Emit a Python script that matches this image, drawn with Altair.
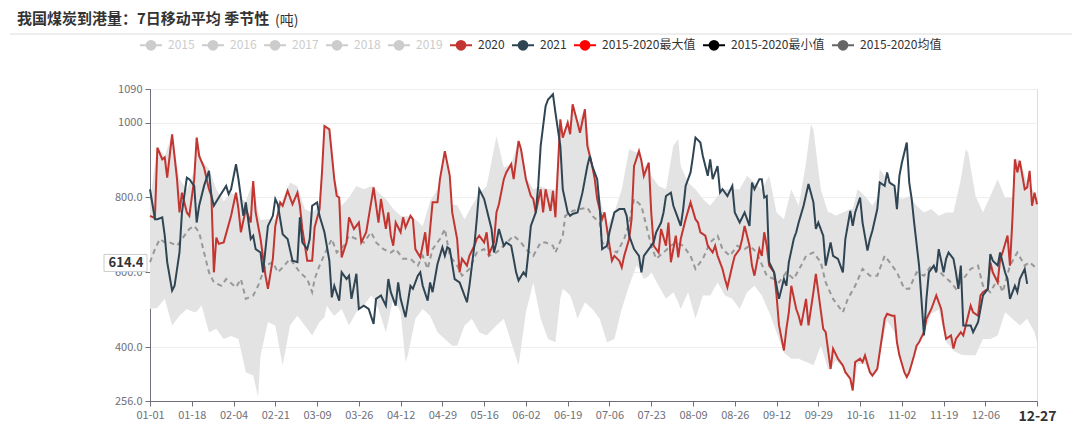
import altair as alt
import pandas as pd

FONT = "Noto Sans CJK SC"
TITLE = "我国煤炭到港量：7日移动平均 季节性"
UNIT = "(吨)"

series_names = ["2015", "2016", "2017", "2018", "2019", "2020", "2021",
                "2015-2020最大值", "2015-2020最小值", "2015-2020均值"]
series_colors = ["#cccccc", "#cccccc", "#cccccc", "#cccccc", "#cccccc",
                 "#c23531", "#2f4554", "#ff0000", "#000000", "#666666"]

x_tick_days = [0, 17, 34, 51, 68, 85, 102, 119, 136, 153, 170, 187, 204, 221,
               238, 255, 272, 289, 306, 323, 340, 361]
y_ticks = [256, 400, 600, 800, 1000, 1090]
pointer_value = [614.4]

# (day of year index from 01-01, value)
s2020 = [(0,751),(2,745),(3,933),(5,902),(6,907),(7,853),(9,969),(11,849),(12,760),(13,813),(15,760),(16,751),
(18,849),(19,960),(20,911),(22,880),(24,822),(25,804),(26,600),(27,693),(28,676),(30,680),(33,751),(35,813),
(36,769),(37,707),(39,769),(41,733),(42,844),(43,760),(45,689),(47,591),(48,556),(50,636),(51,724),(53,787),
(54,778),(56,818),(58,782),(60,813),(61,778),(62,716),(64,631),(66,631),(67,720),(69,769),(70,867),(71,991),
(73,982),(75,849),(76,804),(77,800),(78,640),(80,680),(81,747),(83,716),(85,733),(86,680),(88,707),(91,827),
(93,733),(94,796),(96,716),(97,760),(98,698),(99,671),(100,733),(102,707),(103,747),(104,720),(106,751),(107,742),
(108,662),(110,640),(112,707),(113,644),(115,787),(117,787),(118,849),(120,924),(122,858),(123,760),(125,689),
(126,600),(127,636),(129,618),(130,644),(132,671),(133,689),(134,698),(136,680),(137,707),(138,649),(140,680),
(141,760),(142,782),(144,849),(145,867),(147,889),(148,849),(150,951),(151,929),(153,849),(155,804),(156,796),
(157,760),(159,822),(160,760),(161,822),(163,764),(164,818),(165,747),(167,1009),(168,960),(170,1000),(171,969),
(172,1049),(174,1000),(175,973),(177,1036),(178,938),(180,884),(181,849),(182,796),(184,742),(185,760),(187,671),
(188,631),(189,644),(191,631),(192,613),(193,644),(195,689),(196,742),(197,884),(199,924),(200,898),(201,858),
(203,893),(204,760),(205,671),(207,653),(208,716),(210,671),(211,733),(212,627),(214,698),(215,640),(216,689),
(218,742),(220,787),(222,742),(223,733),(224,707),(226,698),(227,671),(229,653),(230,671),(231,644),(233,609),
(234,582),(235,560),(237,618),(238,644),(240,662),(241,689),(242,724),(244,671),(245,618),(246,591),(248,662),
(249,644),(250,707),(251,671),(252,618),(254,600),(255,538),(256,458),(258,391),(259,449),(260,493),(261,564),
(263,502),(264,484),(265,458),(267,529),(268,458),(270,547),(271,596),(272,547),(274,449),(275,440),(277,342),
(278,396),(280,369),(282,351),(283,333),(285,316),(286,284),(287,360),(289,369),(290,360),(291,378),(293,333),
(294,324),(296,342),(297,387),(299,476),(300,489),(302,484),(303,484),(304,413),(305,378),(307,333),(308,320),
(309,333),(311,378),(312,404),(313,413),(315,440),(316,476),(318,502),(319,520),(320,538),(322,502),(323,458),
(324,422),(326,431),(327,396),(328,422),(330,440),(331,431),(332,458),(334,511),(335,493),(337,484),(338,538),
(339,547),(341,556),(342,627),(343,600),(345,573),(346,636),(347,653),(349,698),(350,618),(351,742),(352,902),
(353,867),(354,898),(356,822),(357,827),(358,871),(359,778),(360,813),(361,782)]

s2021 = [(0,822),(2,742),(3,742),(5,747),(6,698),(7,627),(9,551),(10,564),(12,653),(13,760),(15,853),(16,849),
(18,831),(19,733),(20,778),(22,831),(24,871),(25,804),(26,778),(28,800),(31,831),(32,809),(33,822),(35,889),
(36,849),(38,751),(39,787),(41,689),(42,698),(43,662),(45,653),(46,600),(48,724),(50,751),(51,796),(52,782),
(54,702),(56,689),(58,631),(60,627),(61,747),(62,680),(64,662),(65,689),(66,778),(68,787),(69,751),(71,707),
(73,631),(74,533),(75,564),(77,524),(78,600),(80,582),(81,591),(82,529),(84,596),(85,502),(87,511),(89,502),
(91,462),(92,529),(94,538),(96,511),(97,582),(98,547),(100,511),(101,573),(102,529),(104,480),(106,564),(107,556),
(109,591),(110,600),(111,564),(113,524),(114,573),(115,547),(117,622),(119,667),(120,644),(121,667),(122,662),
(124,582),(126,573),(127,556),(129,520),(130,564),(132,671),(133,742),(134,822),(136,796),(137,769),(139,716),
(140,653),(141,680),(142,716),(144,671),(145,680),(147,671),(148,636),(149,600),(150,578),(152,600),(153,591),
(154,653),(155,724),(157,760),(158,831),(159,938),(161,1044),(162,1062),(164,1076),(165,1027),(167,938),(168,822),
(170,760),(171,751),(172,756),(174,760),(176,813),(178,884),(179,911),(180,884),(182,849),(183,778),(184,662),
(186,671),(187,707),(189,760),(191,769),(193,769),(194,751),(195,698),(197,662),(199,644),(200,600),(201,644),
(203,662),(205,680),(206,707),(208,733),(209,760),(210,804),(212,813),(213,778),(214,760),(216,724),(217,769),
(218,831),(220,867),(221,911),(222,960),(224,947),(225,911),(227,858),(228,902),(229,849),(231,884),(232,813),
(233,822),(235,804),(237,831),(238,760),(240,733),(242,760),(244,724),(245,840),(246,822),(248,849),(249,849),
(250,800),(251,804),(252,627),(254,600),(255,564),(256,529),(258,582),(259,564),(260,627),(262,689),(263,707),
(264,733),(266,778),(268,836),(270,787),(271,716),(272,733),(274,698),(275,618),(277,680),(278,644),(280,636),
(282,600),(283,689),(285,764),(286,724),(287,760),(289,800),(290,733),(292,658),(293,689),(294,711),(296,769),
(297,840),(299,831),(300,867),(301,840),(303,831),(304,769),(305,858),(306,893),(308,947),(309,840),(310,796),
(311,733),(313,618),(315,431),(316,529),(317,600),(319,618),(320,600),(321,662),(323,600),(324,636),(325,653),
(327,636),(328,600),(329,556),(330,618),(331,458),(333,458),(334,458),(335,440),(337,467),(338,502),(339,538),
(341,556),(342,649),(343,631),(345,618),(346,653),(348,600),(349,582),(350,529),(352,564),(353,547),(354,582),
(356,609),(357,569)]

s_mean = [(0,627),(2,662),(4,689),(6,680),(8,680),(11,671),(14,698),(16,716),(18,724),(20,707),(22,653),(24,600),
(26,573),(29,564),(31,582),(35,560),(37,582),(39,529),(42,538),(44,564),(47,618),(50,627),(52,600),(54,613),
(57,636),(61,600),(64,582),(66,547),(67,582),(69,618),(72,662),(74,689),(76,653),(79,671),(81,698),(84,689),
(87,680),(90,707),(92,680),(95,662),(98,653),(100,662),(103,636),(106,636),(109,618),(111,644),(113,609),(115,662),
(118,689),(120,716),(122,644),(125,618),(127,591),(130,609),(133,653),(136,662),(138,644),(141,653),(144,671),
(148,698),(151,680),(153,662),(156,644),(159,680),(161,680),(164,671),(165,653),(168,698),(169,751),(172,764),
(175,769),(178,773),(180,751),(183,733),(184,680),(187,662),(190,653),(193,689),(195,733),(197,796),(200,778),
(202,724),(204,671),(206,636),(209,653),(212,671),(214,680),(217,671),(220,644),(222,609),(225,636),(228,680),
(231,698),(233,662),(236,644),(239,671),(242,662),(244,671),(247,653),(248,636),(251,591),(254,582),(256,573),
(259,600),(262,582),(265,618),(267,644),(270,653),(273,627),(275,573),(278,529),(282,493),(284,529),(287,564),
(290,609),(293,591),(296,591),(299,644),(301,627),(304,600),(307,556),(309,556),(312,600),(315,591),(318,618),
(320,609),(323,591),(326,573),(328,556),(331,582),(334,609),(337,618),(339,564),(342,547),(345,582),(347,547),
(350,618),(353,653),(356,618),(358,627),(361,609)]

# (day, 2015-2020 max, 2015-2020 min)
s_band = [(0,790,502),(3,935,505),(6,910,529),(9,970,458),(12,849,484),(15,822,502),(18,870,493),(19,965,495),
(21,900,511),(24,876,440),(27,822,449),(30,790,422),(33,813,430),(36,800,422),(39,790,333),(42,845,324),
(44,760,267),(45,740,378),(48,742,467),(51,742,458),(54,796,351),(57,840,458),(60,830,484),(63,769,458),
(66,760,431),(69,778,467),(71,995,480),(72,990,511),(73,985,500),(75,860,484),(78,778,502),(81,800,458),
(84,831,493),(87,822,511),(90,830,538),(91,830,530),(93,813,502),(96,796,440),(99,769,529),(102,751,493),
(104,750,360),(105,750,380),(108,742,476),(111,724,502),(114,790,484),(117,822,440),(120,925,422),(122,860,410),
(123,780,404),(125,780,404),(128,742,458),(131,778,476),(134,810,440),(137,830,431),(141,964,458),(144,880,476),
(147,890,413),(150,951,351),(151,930,398),(153,855,493),(156,822,573),(159,830,476),(162,822,422),(165,822,413),
(167,1010,530),(168,965,556),(170,1002,545),(171,975,538),(172,1050,520),(174,1000,476),(177,1036,520),
(180,890,502),(183,800,476),(186,724,413),(189,760,422),(192,822,502),(195,929,564),(198,920,618),(199,925,610),
(201,880,582),(203,895,590),(204,858,600),(207,831,564),(210,822,529),(213,938,547),(215,956,520),(216,884,502),
(219,840,547),(222,822,476),(225,796,538),(228,778,538),(231,804,573),(234,822,538),(237,822,529),(240,822,502),
(243,858,547),(246,840,564),(249,822,538),(252,858,493),(255,760,440),(258,742,385),(261,822,369),(264,778,369),
(267,893,360),(269,996,355),(270,982,351),(273,822,404),(276,760,340),(277,760,338),(279,751,365),(282,760,345),
(285,769,312),(286,769,280),(288,822,355),(291,804,355),(294,778,318),(296,800,338),(297,876,380),(300,849,470),
(303,822,440),(305,800,372),(306,796,355),(308,800,315),(309,804,325),(312,778,400),(315,760,435),(318,769,490),
(321,751,500),(324,760,415),(327,760,390),(330,849,380),(332,929,378),(333,920,378),(336,804,378),(339,760,422),
(342,804,422),(345,849,431),(348,800,493),(351,800,476),(352,905,470),(354,900,458),(357,840,476),(360,815,440),
(361,790,413)]


def frame(pairs, name):
    df = pd.DataFrame(pairs, columns=["day", "value"])
    df["series"] = name
    return df


df2020 = frame(s2020, "2020")
df2021 = frame(s2021, "2021")
dfmean = frame(s_mean, "2015-2020均值")
dfband = pd.DataFrame(s_band, columns=["day", "vmax", "vmin"])
dfptr = pd.DataFrame({"v": pointer_value})

xscale = alt.Scale(domain=[0, 361], nice=False, zero=False)
yscale = alt.Scale(domain=[256, 1090], nice=False, zero=False)

xaxis = alt.Axis(
    values=x_tick_days, title=None, grid=False,
    labelExpr="timeFormat(datetime(2020, 0, 1 + datum.value), '%m-%d')",
    labelFont=FONT,
    labelFontSize=alt.condition("datum.value == 361", alt.value(14), alt.value(11)),
    labelFontWeight=alt.condition("datum.value == 361", alt.value("bold"), alt.value("normal")),
    labelColor=alt.condition("datum.value == 361", alt.value("#333333"), alt.value("#6e7079")),
    labelPadding=3, tickSize=5, tickColor="#6e7079", domainColor="#6e7079", labelOverlap=False,
    labelFlush=False,
)
yaxis = alt.Axis(
    values=y_ticks, title=None, grid=True, gridColor="#eeeeee",
    labelExpr="datum.value >= 1000 ? format(datum.value, 'd') : format(datum.value, '.1f')",
    labelFont=FONT, labelFontSize=11, labelColor="#6e7079", labelPadding=3,
    tickSize=5, tickColor="#6e7079", domainColor="#6e7079", labelOverlap=False,
)

LEGEND_PATH = "M-1,0L1,0M0.4,0A0.4,0.4,0,1,1,-0.4,0A0.4,0.4,0,1,1,0.4,0Z"
legend = alt.Legend(
    title=None, orient="none", legendX=-11, legendY=-56, direction="horizontal", columns=10,
    symbolType=LEGEND_PATH, symbolSize=484, symbolStrokeWidth=2, symbolOpacity=1,
    symbolFillColor={"expr": "scale('color', datum.value)"},
    labelColor={"expr": "indexof(['2015','2016','2017','2018','2019'], datum.label) >= 0 ? '#cccccc' : '#333333'"},
    labelFont=FONT, labelFontSize=12, labelOffset=5, columnPadding=3,
)
cscale = alt.Scale(domain=series_names, range=series_colors)


def X():
    return alt.X("day:Q", scale=xscale, axis=xaxis)


def color():
    return alt.Color("series:N", scale=cscale, legend=legend)


band = alt.Chart(dfband).mark_area(color="#e3e3e3", opacity=1).encode(
    x=X(), y=alt.Y("vmax:Q", scale=yscale, axis=yaxis), y2="vmin:Q"
)
mean_line = alt.Chart(dfmean).mark_line(strokeWidth=2, strokeDash=[5, 4], opacity=0.6).encode(
    x=X(), y=alt.Y("value:Q", scale=yscale, axis=yaxis), color=color()
)
line2020 = alt.Chart(df2020).mark_line(strokeWidth=2).encode(
    x=X(), y=alt.Y("value:Q", scale=yscale, axis=yaxis), color=color()
)
line2021 = alt.Chart(df2021).mark_line(strokeWidth=2).encode(
    x=X(), y=alt.Y("value:Q", scale=yscale, axis=yaxis), color=color()
)
ptr_box = alt.Chart(dfptr).mark_rect(fill="white", stroke="#cccccc", strokeWidth=1, height=17,
                                     yOffset=-4).encode(
    x=alt.value(-46), x2=alt.value(-3), y=alt.Y("v:Q", scale=yscale, axis=yaxis)
)
ptr_text = alt.Chart(dfptr).mark_text(font=FONT, fontSize=13, fontWeight="bold", color="#333333",
                                      align="center", baseline="middle", dy=-4).encode(
    x=alt.value(-24), y=alt.Y("v:Q", scale=yscale, axis=yaxis), text=alt.Text("v:Q", format=".1f")
)
unit_df = pd.DataFrame({"t": [UNIT]})
unit_text = alt.Chart(unit_df).mark_text(font=FONT, fontSize=14, color="#333333",
                                         align="left", baseline="middle").encode(
    x=alt.value(125), y=alt.value(-68), text="t:N"
)
sep_rule = alt.Chart(unit_df).mark_rule(color="#dddddd", strokeWidth=1).encode(
    x=alt.value(-140), x2=alt.value(922), y=alt.value(-55)
)

chart = alt.layer(
    band, mean_line, line2020, line2021, ptr_box, ptr_text, unit_text, sep_rule
).properties(
    width=887, height=312,
    title=alt.TitleParams(TITLE, anchor="start", frame="group", dx=-133, dy=17, fontSize=15,
                          fontWeight="bold", font=FONT, color="#333333"),
    autosize=alt.AutoSizeParams(type="none"),
    padding={"left": 142, "top": 81, "right": 35, "bottom": 24},
).configure_view(stroke=None).configure(background="white")

chart.save("out.html", embed_options={"renderer": "svg", "actions": False})
